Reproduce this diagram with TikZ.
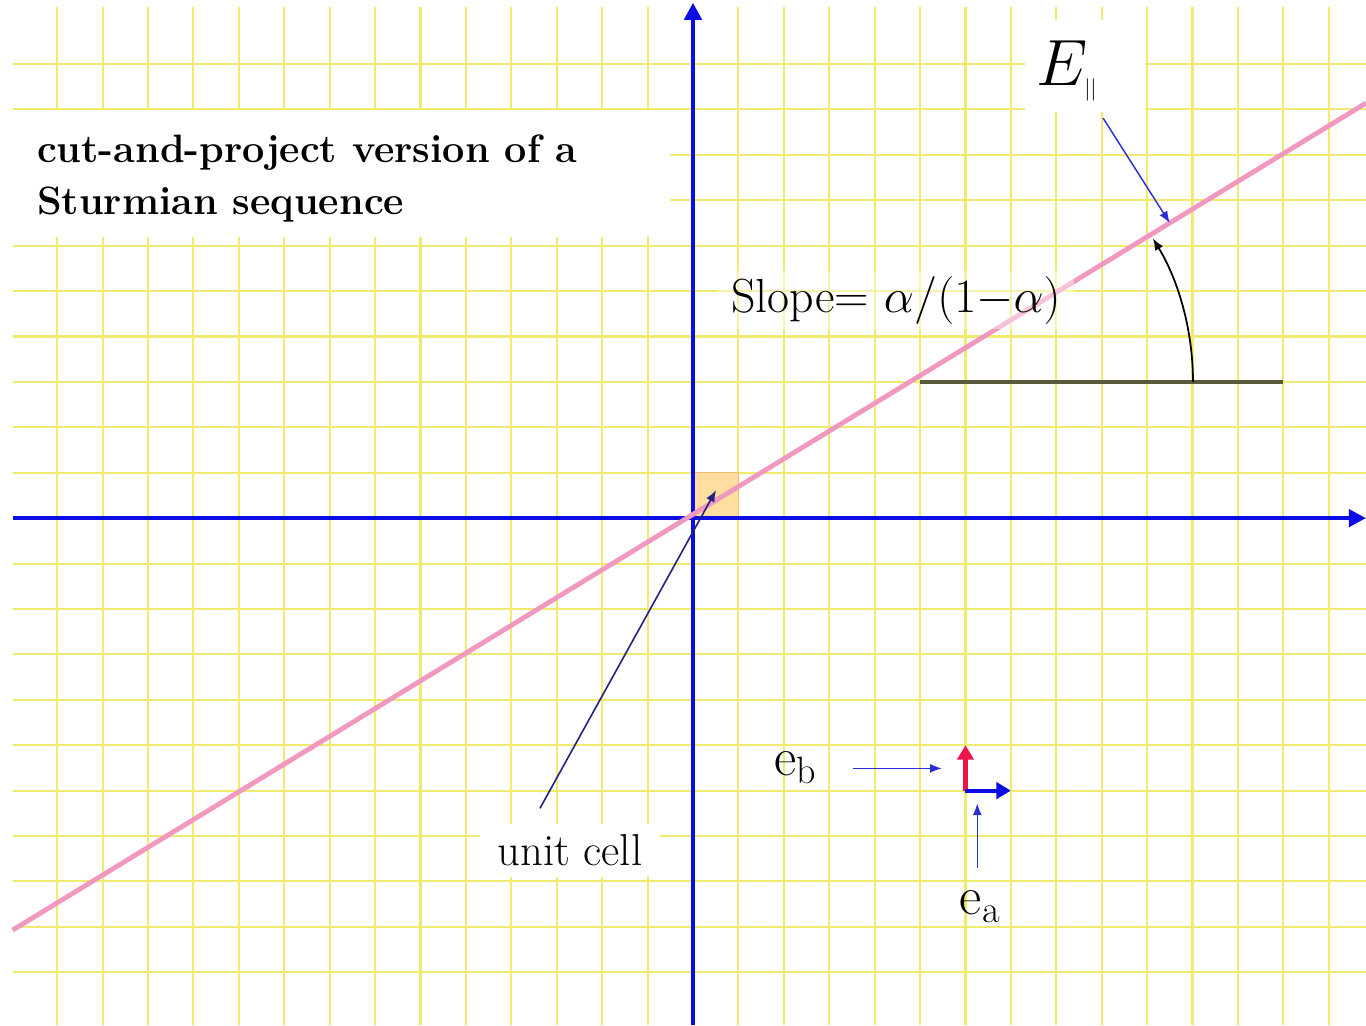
\RequirePackage{fix-cm}
\documentclass[tikz,border=0pt]{standalone}
\usetikzlibrary{arrows.meta}
\definecolor{gridyellow}{RGB}{240,234,110}
\definecolor{axisblue}{RGB}{12,12,228}
\definecolor{linepink}{RGB}{241,152,192}
\definecolor{cellorange}{RGB}{255,222,160}
\definecolor{cellborder}{RGB}{240,190,110}
\definecolor{pointblue}{RGB}{45,45,215}
\definecolor{cellpointer}{RGB}{35,35,125}
\definecolor{vecred}{RGB}{236,20,72}
\definecolor{anglegray}{RGB}{88,88,58}
\begin{document}
\begin{tikzpicture}[line join=round,
	gridline/.style={gridyellow,line width=1.3pt},
	axis/.style={axisblue,line width=2.6pt,-{Triangle[length=3.8mm,width=3.8mm]}},
	pointer/.style={pointblue,line width=0.9pt,-{Latex[length=2.6mm,width=2mm]}},
	basisvec/.style={line width=2.6pt,-{Triangle[length=3.2mm,width=3.6mm]}},
	lbl/.style={font=\fontsize{34}{34}\selectfont}]
	\fill[white] (-15.26,-11.17) rectangle (14.82,11.41);
	\useasboundingbox (-15.26,-11.17) rectangle (14.82,11.41);
	% grid
	\foreach \x in {-14,...,14} \draw[gridline] (\x,-11.17)--(\x,11.26);
	\foreach \y in {-10,...,10} \draw[gridline] (-14.98,\y)--(14.82,\y);
	% white boxes behind the labels
	\fill[white] (-14.98,6.19) rectangle (-0.51,8.99);
	\fill[white] (7.31,8.94) rectangle (9.96,10.97);
	\node (title) [anchor=north west,align=left,inner sep=0pt,font=\fontsize{24.8}{32.6}\selectfont\bfseries] at (-14.45,8.44) {cut-and-project version of a\\Sturmian sequence};
	\node (elab) at (8.24,9.85) {\fontsize{41}{41}\selectfont$E_{\hbox{\fontsize{14}{14}\selectfont$||$}}$};
	\node (celllbl) [fill=white,minimum width=3.96cm,minimum height=1.17cm,font=\fontsize{28}{28}\selectfont] at (-2.71,-7.31) {unit cell};
	% unit cell, axes, slope line
	\filldraw[fill=cellorange,draw=cellborder,line width=0.8pt] (0,0) rectangle (1,1);
	\draw[axis] (-14.98,0) -- (14.82,0);
	\draw[axis] (0,-11.17) -- (0,11.35);
	\draw[linepink,line width=3pt] (-14.98,-9.07) -- (14.82,9.14);
	\node (slope) [fill=white,fill opacity=0.4,text opacity=1,inner xsep=0.3cm,font=\fontsize{30}{30}\selectfont] at (4.47,4.8) {Slope= $\alpha/(1{-}\alpha)$};
	% angle
	\coordinate (apex) at (4.91,3);
	\draw[anglegray,line width=2.2pt] (5,3) -- (13,3);
	\draw[line width=1.1pt,-{Latex[length=2.6mm,width=2mm]}] ([xshift=6.1cm]apex) arc[start angle=0,end angle=31.2,radius=6.1];
	% pointers
	\coordinate (etail) at (9.03,8.81);
	\coordinate (ehead) at (10.5,6.5);
	\draw[pointer] (etail) -- (ehead);
	\coordinate (ctail) at (-3.37,-6.39);
	\coordinate (chead) at (0.51,0.62);
	\draw[cellpointer,line width=1pt,-{Latex[length=2.6mm,width=2mm]}] (ctail) -- (chead);
	% basis vectors
	\coordinate (o2) at (6,-6);
	\coordinate (ebtip) at (6,-5);
	\coordinate (eatip) at (7,-6);
	\draw[basisvec,vecred] (o2) -- (ebtip);
	\draw[basisvec,axisblue] (o2) -- (eatip);
	\node (eb) [lbl] at (2.25,-5.5) {e$_{\mathrm{b}}$};
	\node (ea) [lbl] at (6.32,-8.55) {e$_{\mathrm{a}}$};
	\coordinate (ebtail) at (3.52,-5.51);
	\coordinate (ebhead) at (5.48,-5.51);
	\coordinate (eatail) at (6.26,-7.71);
	\coordinate (eahead) at (6.26,-6.28);
	\draw[pointer] (ebtail) -- (ebhead);
	\draw[pointer] (eatail) -- (eahead);
\end{tikzpicture}
\end{document}
